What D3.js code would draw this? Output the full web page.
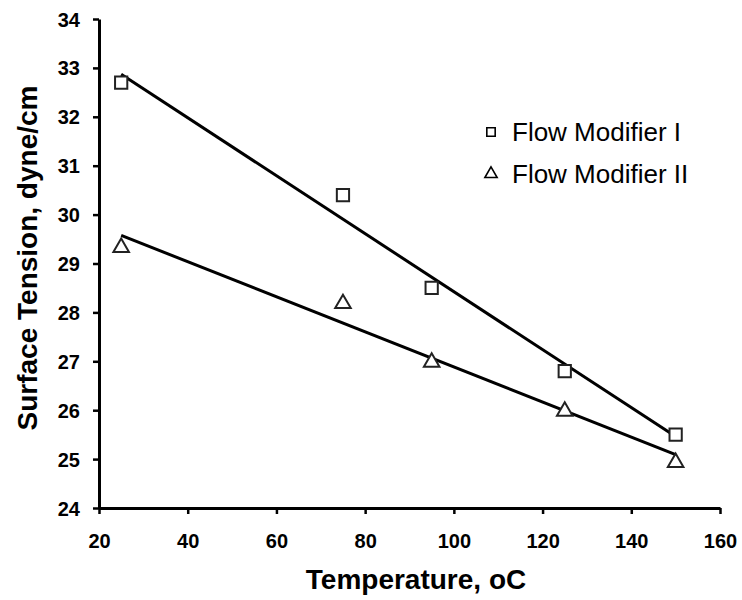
<!DOCTYPE html>
<html>
<head>
<meta charset="utf-8">
<script src="https://cdn.jsdelivr.net/npm/d3@7"></script>
<style>
  body { margin: 0; background: #fff; }
  text { font-family: Arial, "Liberation Sans", sans-serif; }
</style>
</head>
<body>
<div id="chart"></div>
<script>
// data
const temps = [25, 75, 95, 125, 150];
const modifierI = [32.7, 30.4, 28.5, 26.8, 25.5];
const modifierII = [29.35, 28.2, 27.0, 26.0, 24.95];
const xTicks = [20, 40, 60, 80, 100, 120, 140, 160];
const yTicks = [24, 25, 26, 27, 28, 29, 30, 31, 32, 33, 34];
const seriesNames = ["Flow Modifier I", "Flow Modifier II"];

let svgWidth = 742;
let svgHeight = 600;

let margin = { top: 19, right: 22, bottom: 92, left: 99 };
let width = svgWidth - margin.left - margin.right;
let height = svgHeight - margin.top - margin.bottom;

let svg = d3.select("#chart")
  .append("svg")
  .attr("width", svgWidth)
  .attr("height", svgHeight);

let chartGroup = svg.append("g")
  .attr("transform", `translate(${margin.left}, ${margin.top})`);

const x = d3.scaleLinear().domain([20, 160]).range([0, width]);
const y = d3.scaleLinear().domain([24, 34]).range([height, 0]);

// axes
const bottomAxis = d3.axisBottom(x).tickValues(xTicks).tickSize(6).tickSizeOuter(0);
const leftAxis = d3.axisLeft(y).tickValues(yTicks).tickSize(6).tickSizeOuter(0);

let xg = chartGroup.append("g")
  .attr("transform", `translate(0, ${height})`)
  .call(bottomAxis);
let yg = chartGroup.append("g").call(leftAxis);

[xg, yg].forEach(g => {
  g.select(".domain").attr("stroke", "#000").attr("stroke-width", 3);
  g.selectAll(".tick line").attr("stroke", "#000").attr("stroke-width", 2.5);
  g.selectAll(".tick text")
    .attr("fill", "#000")
    .style("font-family", "Arial, 'Liberation Sans', sans-serif")
    .style("font-size", "20px")
    .style("font-weight", "bold");
});
xg.selectAll(".tick text").attr("y", 9).attr("dy", "1.55em");
yg.selectAll(".tick text").attr("x", -19).attr("dy", "0.35em");

// least squares trend line
function fit(xs, ys) {
  const mx = d3.mean(xs), my = d3.mean(ys);
  let sxy = 0, sxx = 0;
  xs.forEach((v, i) => { sxy += (v - mx) * (ys[i] - my); sxx += (v - mx) * (v - mx); });
  const b = sxy / sxx;
  return t => my + b * (t - mx);
}

const series = [modifierI, modifierII];
const line = d3.line().x(d => x(d[0])).y(d => y(d[1]));

series.forEach(vals => {
  const f = fit(temps, vals);
  const ends = [temps[0], temps[temps.length - 1]].map(t => [t, f(t)]);
  chartGroup.append("path")
    .attr("d", line(ends))
    .attr("fill", "none")
    .attr("stroke", "#000")
    .attr("stroke-width", 3);
});

const sq = d3.symbol().type(d3.symbolSquare).size(150);
const tri = d3.symbol().type(d3.symbolTriangle).size(105);
const symbols = [sq, tri];

series.forEach((vals, s) => {
  chartGroup.append("g")
    .selectAll("path")
    .data(temps.map((t, i) => [t, vals[i]]))
    .enter()
    .append("path")
    .attr("d", symbols[s])
    .attr("transform", d => `translate(${x(d[0])}, ${y(d[1]) + (s === 1 ? 1 : 0)})`)
    .attr("fill", "#fff")
    .attr("stroke", "#222")
    .attr("stroke-width", 2);
});

// legend
const legend = svg.append("g").attr("transform", "translate(491, 132)");
seriesNames.forEach((name, i) => {
  const row = legend.append("g").attr("transform", `translate(0, ${i * 42})`);
  row.append("path")
    .attr("d", i === 0 ? d3.symbol().type(d3.symbolSquare).size(70)() : d3.symbol().type(d3.symbolTriangle).size(65)())
    .attr("fill", "#fff")
    .attr("stroke", "#000")
    .attr("stroke-width", 1.6);
  row.append("text")
    .attr("x", 21)
    .attr("y", 9)
    .style("font-size", "26px")
    .text(name);
});

// axis titles
svg.append("text")
  .attr("x", 416)
  .attr("y", 589)
  .attr("text-anchor", "middle")
  .style("font-size", "28px")
  .style("font-weight", "bold")
  .text("Temperature, oC");

svg.append("text")
  .attr("transform", `translate(37, 258) rotate(-90)`)
  .attr("text-anchor", "middle")
  .style("font-size", "28px")
  .style("font-weight", "bold")
  .text("Surface Tension, dyne/cm");
</script>
</body>
</html>
